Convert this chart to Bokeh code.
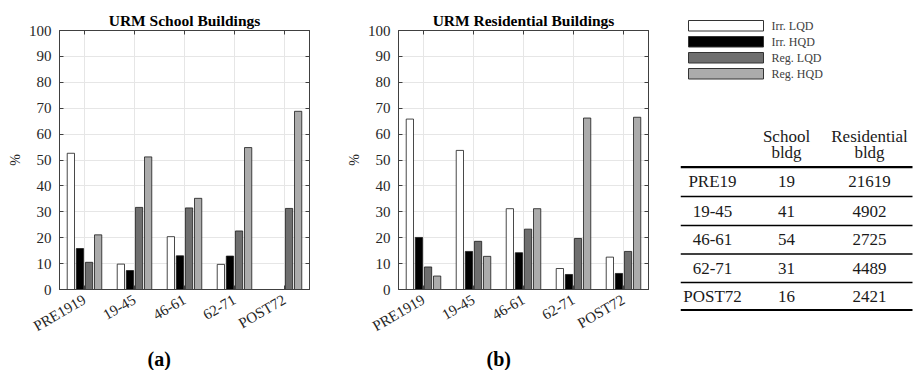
import math
import numpy as np
from bokeh.plotting import figure
from bokeh.models import Range1d, FixedTicker, LinearAxis, Title
from bokeh.layouts import row
from bokeh.embed import file_html
from bokeh.resources import INLINE
from bokeh.core.properties import value

# ---- data -------------------------------------------------------------
periods = ["PRE1919", "19-45", "46-61", "62-71", "POST72"]
series = ["Irr. LQD", "Irr. HQD", "Reg. LQD", "Reg. HQD"]
colors = ["#ffffff", "#000000", "#6e6e6e", "#ababab"]

# URM school buildings, % per period
school_irr_lqd = [52.6, 9.8, 20.4, 9.7, 0.0]
school_irr_hqd = [15.8, 7.3, 13.0, 12.9, 0.0]
school_reg_lqd = [10.5, 31.7, 31.5, 22.6, 31.3]
school_reg_hqd = [21.1, 51.2, 35.2, 54.8, 68.8]

# URM residential buildings, % per period
res_irr_lqd = [65.8, 53.7, 31.2, 8.1, 12.5]
res_irr_hqd = [20.1, 14.7, 14.2, 5.8, 6.2]
res_reg_lqd = [8.7, 18.6, 23.3, 19.7, 14.7]
res_reg_hqd = [5.2, 12.8, 31.2, 66.2, 66.5]

# building counts per period
table_rows = ["PRE19", "19-45", "46-61", "62-71", "POST72"]
school_counts = [19, 41, 54, 31, 16]
residential_counts = [21619, 4902, 2725, 4489, 2421]

y_ticks = list(range(0, 101, 10))

SERIF = "Liberation Serif"
AXIS_COLOR = "#404040"
TEXT_COLOR = "#262626"


def bar_panel(title, groups, tag, border_left):
    p = figure(width=340, height=370, output_backend="svg", toolbar_location=None,
               x_range=Range1d(0.5, 5.5), y_range=Range1d(0, 100),
               min_border_left=border_left, min_border_right=340 - border_left - 250,
               min_border_top=30, min_border_bottom=80)
    p.title.text = title
    p.title.align = "center"
    p.title.text_font = SERIF
    p.title.text_font_size = "15.5px"
    p.title.text_font_style = "bold"
    p.title.text_color = "#000000"
    p.title.standoff = 4

    centers = np.arange(1, len(periods) + 1)
    n = len(groups)
    group_w = min(0.8, n / (n + 1.5))
    slot = group_w / n
    for k, vals in enumerate(groups):
        xs = centers + (k - (n - 1) / 2) * slot
        p.vbar(x=xs, top=vals, bottom=0, width=0.8 * slot,
               fill_color=colors[k], line_color="#1a1a1a", line_width=0.8)

    p.xaxis.ticker = FixedTicker(ticks=list(centers))
    p.xaxis.major_label_overrides = {int(c): lab for c, lab in zip(centers, periods)}
    p.xaxis.major_label_orientation = math.pi / 6
    p.yaxis.ticker = FixedTicker(ticks=y_ticks)
    p.yaxis.axis_label = "%"
    p.yaxis.axis_label_standoff = 3
    p.yaxis.axis_label_text_font_style = "normal"

    for ax in p.axis:
        ax.major_label_text_font = SERIF
        ax.major_label_text_font_size = "15px"
        ax.major_label_text_color = TEXT_COLOR
        ax.axis_label_text_font = SERIF
        ax.axis_label_text_font_size = "14px"
        ax.axis_label_text_color = TEXT_COLOR
        ax.axis_line_color = AXIS_COLOR
        ax.major_tick_line_color = AXIS_COLOR
        ax.major_tick_in = 4
        ax.major_tick_out = 0
        ax.minor_tick_line_color = None
        ax.major_label_standoff = 8
    p.xaxis.major_label_standoff = 9

    # box ticks on the right and top edges
    right = LinearAxis(ticker=FixedTicker(ticks=y_ticks), major_label_text_color=None,
                       major_label_text_font_size="1px", major_label_standoff=0,
                       axis_line_color=AXIS_COLOR, major_tick_line_color=AXIS_COLOR,
                       major_tick_in=4, major_tick_out=0, minor_tick_line_color=None)
    top = LinearAxis(ticker=FixedTicker(ticks=list(centers)), major_label_text_color=None,
                     major_label_text_font_size="1px", major_label_standoff=0,
                     axis_line_color=AXIS_COLOR, major_tick_line_color=AXIS_COLOR,
                     major_tick_in=4, major_tick_out=0, minor_tick_line_color=None)
    p.add_layout(right, "right")
    p.add_layout(top, "above")

    p.xgrid.grid_line_color = "#e6e6e6"
    p.ygrid.grid_line_color = "#e6e6e6"
    p.outline_line_color = AXIS_COLOR

    # panel tag under the category labels
    p.add_layout(Title(text=tag, align="left", offset=88, standoff=2,
                       text_font=SERIF, text_font_size="20px", text_font_style="bold",
                       text_color="#000000"), "below")
    return p


p1 = bar_panel("URM School Buildings",
               [school_irr_lqd, school_irr_hqd, school_reg_lqd, school_reg_hqd], "(a)", 59)
p2 = bar_panel("URM Residential Buildings",
               [res_irr_lqd, res_irr_hqd, res_reg_lqd, res_reg_hqd], "(b)", 58)

# ---- legend and count table (pixel-like coordinates, y downward) -------
p3 = figure(width=233, height=370, output_backend="svg", toolbar_location=None,
            x_range=Range1d(680, 913), y_range=Range1d(370, 0),
            x_axis_type=None, y_axis_type=None, min_border=0)
p3.frame_align = False
p3.outline_line_color = None
p3.grid.visible = False

leg_top = [20 + 16 * i for i in range(len(series))]
p3.quad(left=688, right=763, top=leg_top, bottom=[t + 10.5 for t in leg_top],
        fill_color=colors, line_color="#333333", line_width=1)
p3.text(x=771, y=[t + 5.5 for t in leg_top], text=series,
        text_font=value(SERIF), text_font_size=value("12px"), text_color="#404040",
        text_baseline="middle", text_align="left")

col_school = 786
col_res = 869
col_label = 712
p3.text(x=[col_school, col_res], y=135.5, text=["School", "Residential"],
        text_font=value(SERIF), text_font_size=value("17px"), text_color="#1a1a1a",
        text_baseline="middle", text_align="center")
p3.text(x=[col_school, col_res], y=151.5, text=["bldg", "bldg"],
        text_font=value(SERIF), text_font_size=value("17px"), text_color="#1a1a1a",
        text_baseline="middle", text_align="center")

rule_y = [166.7, 196.0, 225.0, 253.5, 282.0, 309.5]
rule_w = [2.2, 1.4, 1.4, 1.4, 1.4, 2.2]
p3.segment(x0=680, x1=912, y0=rule_y, y1=rule_y, line_color="#000000", line_width=rule_w)

row_y = [(a + b) / 2 for a, b in zip(rule_y[:-1], rule_y[1:])]
txt = dict(text_font=value(SERIF), text_font_size=value("17px"), text_color="#1a1a1a",
           text_baseline="middle", text_align="center")
p3.text(x=col_label, y=row_y, text=table_rows, **txt)
p3.text(x=col_school, y=row_y, text=[str(v) for v in school_counts], **txt)
p3.text(x=col_res, y=row_y, text=[str(v) for v in residential_counts], **txt)

layout = row(p1, p2, p3)
open("out.html", "w").write(file_html(layout, INLINE))
